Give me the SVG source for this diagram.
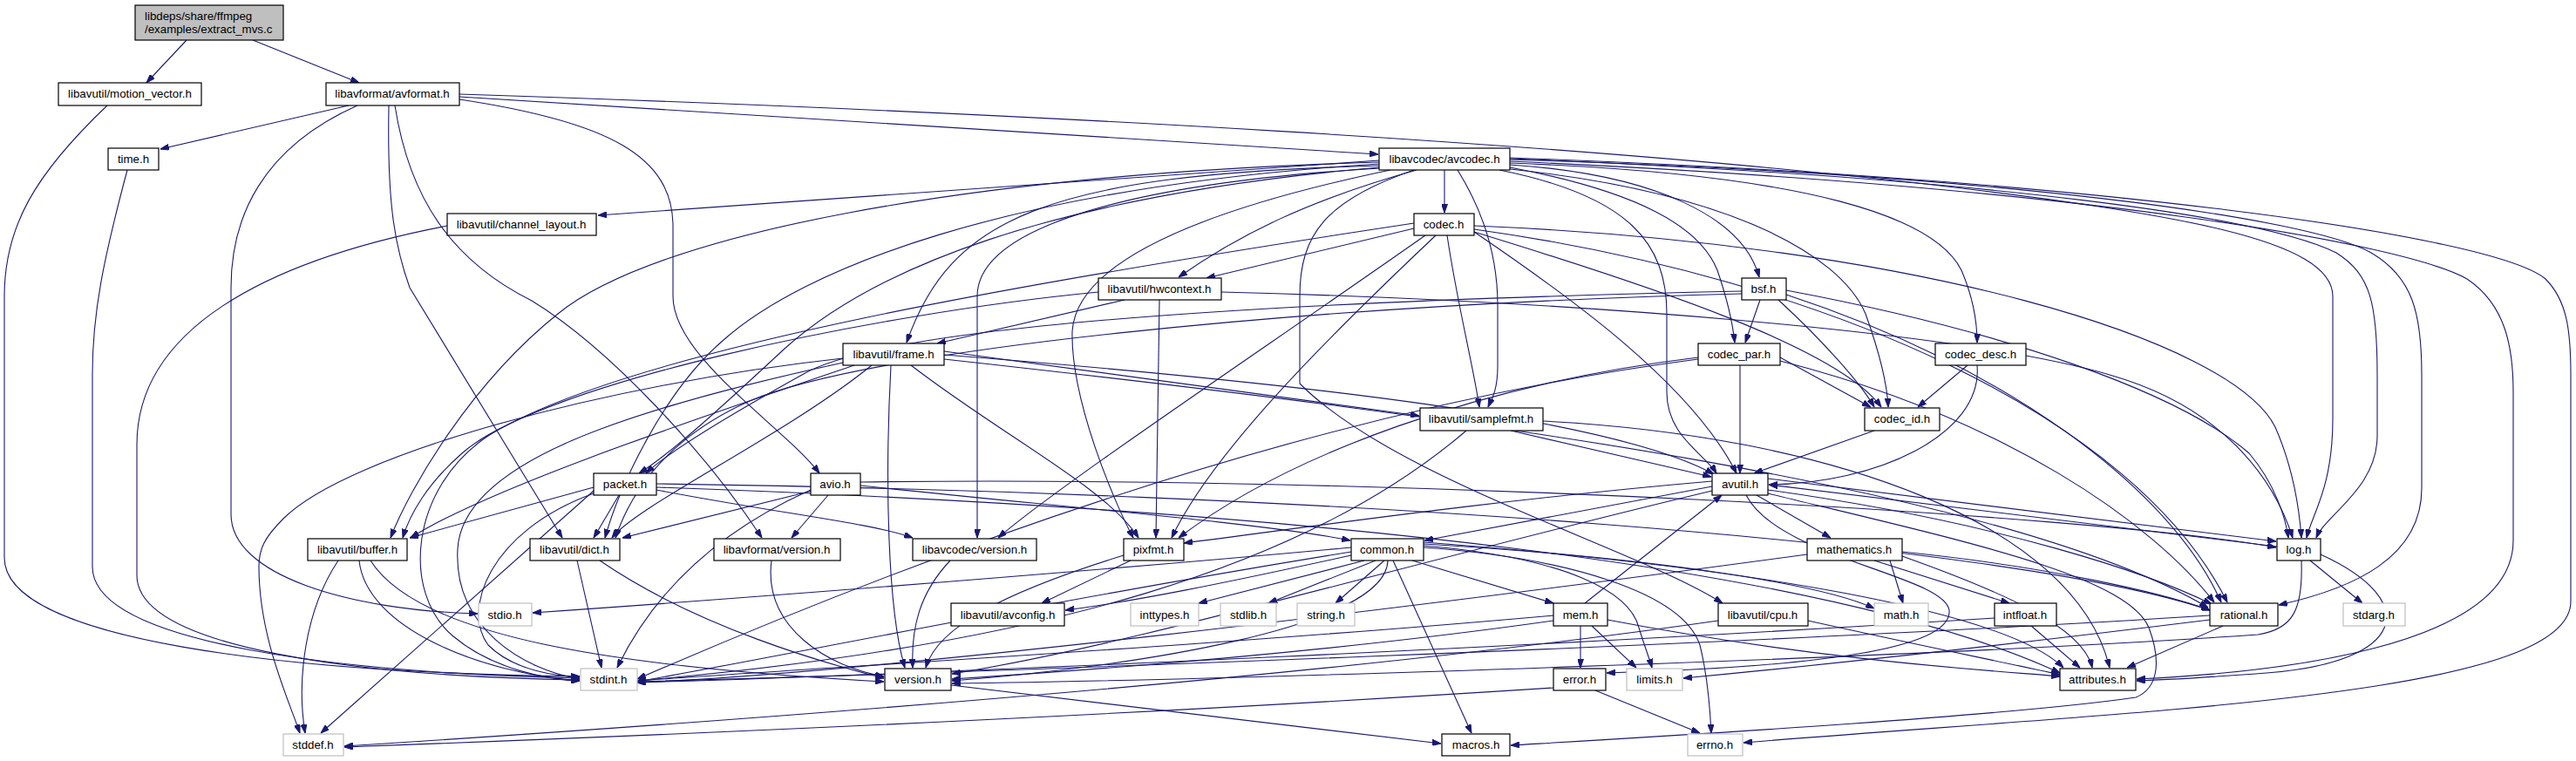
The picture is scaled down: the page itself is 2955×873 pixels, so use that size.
<svg xmlns="http://www.w3.org/2000/svg" width="2955" height="873" viewBox="0 0 2955 873">
<style>
.n rect{fill:#fff;stroke:#000;stroke-width:1.2}
.g rect{fill:#fff;stroke:#bfbfbf;stroke-width:1.2}
.r rect{fill:#bfbfbf;stroke:#000;stroke-width:1.2}
text{font-family:"Liberation Sans",Arial,Helvetica,sans-serif;font-size:13.3px;fill:#000;text-anchor:middle}
#edges path{fill:none;stroke:#191970;stroke-width:1.1;marker-end:url(#a)}
</style>
<defs>
<marker id="a" viewBox="0 0 10 7" refX="10" refY="3.5" markerWidth="10" markerHeight="7" markerUnits="userSpaceOnUse" orient="auto">
<path d="M0,0 L10,3.5 L0,7 z" fill="#191970" stroke="#191970"/>
</marker>
</defs>
<rect width="2955" height="873" fill="#fff"/>
<g id="edges">
<path d="M214,46 L168,95"/>
<path d="M290,46 L412,95"/>
<path d="M123,121 C40,200 5,260 5,340 L5,640 C5,735 330,772 665,776"/>
<path d="M400,121 L184,171"/>
<path d="M410,121 C300,170 265,250 265,330 L265,590 C265,660 400,700 548,704"/>
<path d="M527,111 L1581,177"/>
<path d="M446,121 C444,230 452,280 470,330 L645,617"/>
<path d="M453,121 C470,230 520,300 610,345 C700,400 810,520 874,617"/>
<path d="M527,114 C700,140 772,180 772,260 L772,340 C772,410 900,490 940,543"/>
<path d="M527,108 C1200,130 1800,165 2200,210 C2500,245 2676,275 2676,340 L2676,480 C2676,560 2652,590 2646,617"/>
<path d="M146,195 C118,300 106,360 106,430 L106,650 C106,740 400,772 665,778"/>
<path d="M513,259 C300,300 157,380 157,510 L157,660 C157,745 420,776 665,780"/>
<path d="M1582,184 L686,247"/>
<path d="M1582,186 C1100,200 750,270 640,360 C540,440 470,560 448,617"/>
<path d="M1582,188 C1150,215 920,310 830,390 C760,450 710,560 694,617"/>
<path d="M1582,190 C1200,200 1090,250 1040,393"/>
<path d="M1625,195 C1500,230 1420,270 1352,318"/>
<path d="M1595,195 C1380,240 1235,300 1230,380 C1228,460 1280,580 1300,617"/>
<path d="M1732,189 C1900,200 2000,250 2018,318"/>
<path d="M1657,195 L1657,244"/>
<path d="M1732,187 C2080,200 2220,250 2250,310 C2265,345 2268,375 2268,393"/>
<path d="M1732,192 C1880,220 1950,260 1970,310 C1982,345 1988,375 1990,393"/>
<path d="M1732,194 C1980,220 2110,290 2140,360 C2158,410 2165,445 2166,467"/>
<path d="M1582,192 C1200,225 1000,310 900,400 C830,465 770,520 733,543"/>
<path d="M1582,193 C1300,210 1121,260 1121,340 L1121,617"/>
<path d="M1672,195 C1700,240 1718,290 1718,350 L1718,420 C1718,450 1710,460 1707,467"/>
<path d="M1720,195 C1870,225 1912,280 1912,360 L1912,450 C1912,500 1955,520 1969,543"/>
<path d="M1622,195 C1520,230 1491,270 1491,340 L1491,440 C1600,550 1880,630 1976,692"/>
<path d="M1732,183 C2300,200 2650,250 2720,290 C2768,318 2778,360 2778,430 L2778,560 C2778,640 2700,675 2614,694"/>
<path d="M1732,182 C2300,205 2600,250 2680,290 C2720,315 2727,350 2727,430 L2727,500 C2727,560 2668,590 2657,617"/>
<path d="M1732,185 C2400,215 2760,280 2830,320 C2875,350 2883,400 2883,450 L2883,620 C2883,745 2600,772 2451,779"/>
<path d="M1732,181 C2400,205 2860,270 2920,320 C2945,345 2949,380 2949,430 L2949,690 C2949,800 2450,815 2000,852"/>
<path d="M1622,256 C1200,320 720,400 560,500 C470,560 460,680 520,730 C565,768 630,780 665,781"/>
<path d="M1691,266 C1800,340 1940,440 1992,543"/>
<path d="M1622,262 L1384,319"/>
<path d="M1691,259 C2200,280 2560,390 2610,490 C2632,540 2638,590 2640,617"/>
<path d="M1647,270 C1520,390 1390,520 1344,617"/>
<path d="M1691,263 C2100,320 2450,480 2555,691"/>
<path d="M1660,270 C1672,350 1690,420 1697,467"/>
<path d="M1691,266 C1900,330 2110,400 2158,467"/>
<path d="M1635,270 C1450,400 1210,560 1145,617"/>
<path d="M1260,335 C1000,360 620,440 530,520 C490,555 470,590 462,617"/>
<path d="M1290,344 L1075,394"/>
<path d="M1401,335 C1800,345 2250,380 2420,430 C2560,470 2612,560 2630,617"/>
<path d="M1330,344 L1326,617"/>
<path d="M1998,337 C1500,350 1000,400 860,460 C770,500 725,560 706,617"/>
<path d="M2049,333 C2300,380 2500,450 2580,520 C2610,555 2622,595 2625,617"/>
<path d="M2049,338 C2300,420 2490,560 2548,691"/>
<path d="M2040,344 C2090,390 2135,440 2150,467"/>
<path d="M2019,344 L2002,393"/>
<path d="M1998,334 C1500,345 1020,370 920,430 C830,480 765,520 741,543"/>
<path d="M967,411 C700,440 400,520 325,595 C303,617 297,630 297,650 C297,730 330,800 344,841"/>
<path d="M967,416 C720,470 530,530 525,630 C520,720 600,768 665,779"/>
<path d="M1083,407 C1500,440 1850,480 1966,544"/>
<path d="M980,419 C800,480 560,560 471,617"/>
<path d="M1000,419 C900,500 730,580 702,617"/>
<path d="M1083,412 C1700,480 2300,560 2533,697"/>
<path d="M1083,403 L1628,477"/>
<path d="M1045,419 C1150,500 1270,560 1306,617"/>
<path d="M1022,419 C1015,550 1018,700 1038,766"/>
<path d="M1948,412 C1500,470 1050,640 731,779"/>
<path d="M1996,419 L1996,543"/>
<path d="M2042,414 C2300,480 2470,600 2540,691"/>
<path d="M1948,410 C1700,440 1480,520 1352,617"/>
<path d="M2042,410 L2146,467"/>
<path d="M2268,419 C2275,500 2150,555 2029,556"/>
<path d="M2257,419 L2200,467"/>
<path d="M1682,494 C1500,650 1200,740 731,781"/>
<path d="M1733,494 L1963,547"/>
<path d="M1770,483 C2100,500 2380,600 2420,766"/>
<path d="M2150,494 L2012,543"/>
<path d="M681,563 L368,841"/>
<path d="M681,566 C560,610 530,700 560,740 C590,770 640,776 665,776"/>
<path d="M753,559 C1500,585 2100,650 2363,772"/>
<path d="M681,559 L470,617"/>
<path d="M710,568 L681,617"/>
<path d="M753,555 C1500,565 2300,620 2535,700"/>
<path d="M753,562 C900,590 1000,600 1047,617"/>
<path d="M930,562 C800,620 740,700 708,766"/>
<path d="M987,557 C1200,580 1450,600 1549,620"/>
<path d="M932,563 L714,617"/>
<path d="M987,553 C1600,545 2400,590 2611,628"/>
<path d="M950,568 L908,617"/>
<path d="M1964,558 L1634,620"/>
<path d="M2003,568 C2040,640 2230,660 2236,700 C2240,745 2080,765 1843,772"/>
<path d="M2028,562 C2300,600 2470,660 2537,693"/>
<path d="M1964,563 C1600,650 1300,740 1092,773"/>
<path d="M2028,566 C2250,620 2440,660 2465,720 C2480,760 2475,790 2450,800 C2300,822 1900,845 1733,855"/>
<path d="M2015,568 L2100,617"/>
<path d="M2028,549 L2611,621"/>
<path d="M1964,552 C1700,575 1500,605 1358,623"/>
<path d="M2612,627 L2029,556"/>
<path d="M1818,692 L1975,568"/>
<path d="M1813,718 L1813,766"/>
<path d="M1826,718 L1877,766"/>
<path d="M1844,711 C2100,760 2300,770 2363,776"/>
<path d="M1782,706 C1400,740 1000,762 731,781"/>
<path d="M1782,712 C1500,752 1200,772 1092,779"/>
<path d="M1633,628 C1800,640 1930,680 1950,740 C1960,780 1962,820 1963,841"/>
<path d="M1565,643 L1375,692"/>
<path d="M1633,626 C1800,640 1870,680 1880,720 C1886,740 1892,755 1895,766"/>
<path d="M1633,624 C1900,640 2090,670 2150,698"/>
<path d="M1550,633 C1200,690 900,752 731,782"/>
<path d="M1550,628 C1200,660 800,690 611,703"/>
<path d="M1578,643 L1455,692"/>
<path d="M1588,643 L1532,692"/>
<path d="M1633,622 C2000,650 2300,700 2367,766"/>
<path d="M1598,643 L1688,841"/>
<path d="M1592,643 C1590,720 1300,765 1092,781"/>
<path d="M1550,637 C1400,670 1300,690 1222,700"/>
<path d="M1620,643 L1782,692"/>
<path d="M2073,636 C1600,700 1000,772 731,783"/>
<path d="M2168,643 L2183,692"/>
<path d="M2182,638 C2300,680 2390,720 2400,766"/>
<path d="M2182,633 C2350,650 2480,680 2535,700"/>
<path d="M2150,643 L2305,692"/>
<path d="M2650,643 L2710,692"/>
<path d="M2662,636 C2780,690 2760,760 2600,772 C2520,778 2480,780 2451,781"/>
<path d="M2640,643 C2642,700 2630,722 2590,728 C2200,755 1400,780 1092,784"/>
<path d="M1971,712 C1500,780 800,830 395,856"/>
<path d="M2074,712 C2200,740 2300,760 2363,774"/>
<path d="M2288,709 C1800,740 1100,772 731,783"/>
<path d="M2330,718 L2386,766"/>
<path d="M2535,706 C2000,740 1100,772 731,782"/>
<path d="M2535,711 C2300,740 2100,762 1931,778"/>
<path d="M2550,718 L2440,766"/>
<path d="M1830,792 L1950,841"/>
<path d="M1782,789 C1300,820 800,842 395,857"/>
<path d="M388,643 C350,700 340,780 350,841"/>
<path d="M412,643 C420,720 550,772 665,781"/>
<path d="M425,643 C480,730 700,765 1014,782"/>
<path d="M662,643 L690,766"/>
<path d="M688,643 C800,720 950,762 1014,778"/>
<path d="M885,643 C875,720 950,765 1014,776"/>
<path d="M1090,643 C1055,680 1045,720 1047,766"/>
<path d="M1297,643 L1195,692"/>
<path d="M1289,637 C1150,680 1075,720 1062,766"/>
<path d="M1091,786 L1653,853"/>
</g>
<g id="n_root" class="r"><rect x="155" y="6" width="170" height="40"/><text x="166" y="23" style="text-anchor:start">libdeps/share/ffmpeg</text><text x="166" y="38" style="text-anchor:start">/examples/extract_mvs.c</text></g>
<g id="n_mv" class="n"><rect x="67" y="95" width="164" height="26"/><text x="149" y="112">libavutil/motion_vector.h</text></g>
<g id="n_avformat" class="n"><rect x="374" y="95" width="153" height="26"/><text x="450" y="112">libavformat/avformat.h</text></g>
<g id="n_time" class="n"><rect x="124" y="170" width="58" height="25"/><text x="153" y="187">time.h</text></g>
<g id="n_avcodec" class="n"><rect x="1582" y="170" width="150" height="25"/><text x="1657" y="187">libavcodec/avcodec.h</text></g>
<g id="n_chl" class="n"><rect x="513" y="245" width="171" height="25"/><text x="598" y="262">libavutil/channel_layout.h</text></g>
<g id="n_codec" class="n"><rect x="1622" y="245" width="69" height="25"/><text x="1656" y="262">codec.h</text></g>
<g id="n_hw" class="n"><rect x="1260" y="319" width="141" height="25"/><text x="1330" y="336">libavutil/hwcontext.h</text></g>
<g id="n_bsf" class="n"><rect x="1998" y="319" width="51" height="25"/><text x="2023" y="336">bsf.h</text></g>
<g id="n_frame" class="n"><rect x="967" y="394" width="116" height="25"/><text x="1025" y="411">libavutil/frame.h</text></g>
<g id="n_cpar" class="n"><rect x="1948" y="394" width="94" height="25"/><text x="1995" y="411">codec_par.h</text></g>
<g id="n_cdesc" class="n"><rect x="2220" y="394" width="104" height="25"/><text x="2272" y="411">codec_desc.h</text></g>
<g id="n_sfmt" class="n"><rect x="1629" y="468" width="141" height="26"/><text x="1699" y="485">libavutil/samplefmt.h</text></g>
<g id="n_cid" class="n"><rect x="2139" y="468" width="86" height="26"/><text x="2182" y="485">codec_id.h</text></g>
<g id="n_packet" class="n"><rect x="681" y="543" width="72" height="25"/><text x="717" y="560">packet.h</text></g>
<g id="n_avio" class="n"><rect x="930" y="543" width="57" height="25"/><text x="958" y="560">avio.h</text></g>
<g id="n_avutil" class="n"><rect x="1964" y="543" width="64" height="25"/><text x="1996" y="560">avutil.h</text></g>
<g id="n_buffer" class="n"><rect x="353" y="618" width="114" height="25"/><text x="410" y="635">libavutil/buffer.h</text></g>
<g id="n_dict" class="n"><rect x="608" y="618" width="103" height="25"/><text x="659" y="635">libavutil/dict.h</text></g>
<g id="n_afver" class="n"><rect x="819" y="618" width="145" height="25"/><text x="891" y="635">libavformat/version.h</text></g>
<g id="n_acver" class="n"><rect x="1047" y="618" width="142" height="25"/><text x="1118" y="635">libavcodec/version.h</text></g>
<g id="n_pixfmt" class="n"><rect x="1289" y="618" width="69" height="25"/><text x="1323" y="635">pixfmt.h</text></g>
<g id="n_common" class="n"><rect x="1550" y="618" width="83" height="25"/><text x="1591" y="635">common.h</text></g>
<g id="n_mathematics" class="n"><rect x="2073" y="618" width="109" height="25"/><text x="2127" y="635">mathematics.h</text></g>
<g id="n_log" class="n"><rect x="2612" y="618" width="50" height="25"/><text x="2637" y="635">log.h</text></g>
<g id="n_stdio" class="g"><rect x="549" y="692" width="61" height="26"/><text x="579" y="710">stdio.h</text></g>
<g id="n_avconfig" class="n"><rect x="1091" y="692" width="130" height="26"/><text x="1156" y="710">libavutil/avconfig.h</text></g>
<g id="n_inttypes" class="g"><rect x="1297" y="692" width="78" height="26"/><text x="1336" y="710">inttypes.h</text></g>
<g id="n_stdlib" class="g"><rect x="1400" y="692" width="64" height="26"/><text x="1432" y="710">stdlib.h</text></g>
<g id="n_string" class="g"><rect x="1488" y="692" width="66" height="26"/><text x="1521" y="710">string.h</text></g>
<g id="n_mem" class="n"><rect x="1782" y="692" width="62" height="26"/><text x="1813" y="710">mem.h</text></g>
<g id="n_cpu" class="n"><rect x="1971" y="692" width="103" height="26"/><text x="2022" y="710">libavutil/cpu.h</text></g>
<g id="n_math" class="g"><rect x="2150" y="692" width="62" height="26"/><text x="2181" y="710">math.h</text></g>
<g id="n_intfloat" class="n"><rect x="2288" y="692" width="71" height="26"/><text x="2323" y="710">intfloat.h</text></g>
<g id="n_rational" class="n"><rect x="2535" y="692" width="78" height="26"/><text x="2574" y="710">rational.h</text></g>
<g id="n_stdarg" class="g"><rect x="2688" y="692" width="71" height="26"/><text x="2723" y="710">stdarg.h</text></g>
<g id="n_stdint" class="g"><rect x="666" y="767" width="65" height="25"/><text x="698" y="784">stdint.h</text></g>
<g id="n_version" class="n"><rect x="1015" y="767" width="76" height="25"/><text x="1053" y="784">version.h</text></g>
<g id="n_error" class="n"><rect x="1782" y="767" width="60" height="25"/><text x="1812" y="784">error.h</text></g>
<g id="n_limits" class="g"><rect x="1866" y="767" width="64" height="25"/><text x="1898" y="784">limits.h</text></g>
<g id="n_attributes" class="n"><rect x="2363" y="767" width="87" height="25"/><text x="2406" y="784">attributes.h</text></g>
<g id="n_stddef" class="g"><rect x="325" y="842" width="69" height="25"/><text x="359" y="859">stddef.h</text></g>
<g id="n_macros" class="n"><rect x="1654" y="842" width="78" height="25"/><text x="1693" y="859">macros.h</text></g>
<g id="n_errno" class="g"><rect x="1936" y="842" width="63" height="25"/><text x="1967" y="859">errno.h</text></g>
</svg>
